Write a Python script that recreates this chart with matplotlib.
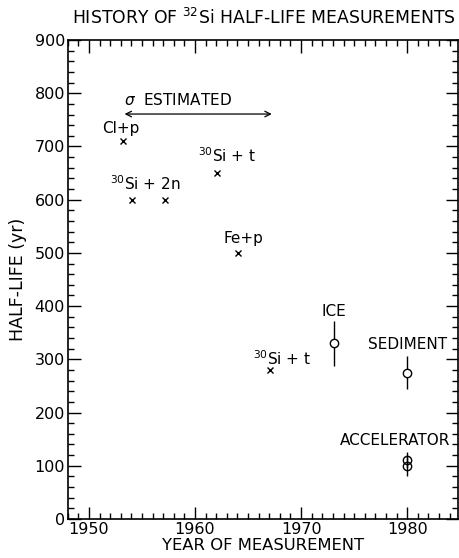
import matplotlib
matplotlib.use("Agg")
import matplotlib.pyplot as plt
from matplotlib.ticker import MultipleLocator

# reaction measurements (sigma estimated)
rx_years = [1953.2, 1954.1, 1957.2, 1962.1, 1964.1, 1967.1]
rx_life = [710, 600, 600, 650, 500, 280]

# measurements with error bars
ice_year, ice_life, ice_err = 1973.1, 330, 42
sed_year, sed_life, sed_err = 1980.0, 275, 31
acc_years = [1980.0, 1980.0]
acc_life = [110, 100]
acc_err = [15, 20]

plt.rcParams['font.family'] = ['DejaVu Sans']

fig = plt.figure(figsize=(4.59, 5.58), dpi=100)
ax = fig.add_axes([0.1475, 0.0699, 0.8505, 0.8583])

ax.plot(rx_years, rx_life, 'x', color='black', ms=4.5, mew=1.0)

ax.errorbar([ice_year], [ice_life], yerr=[ice_err], fmt='o', mfc='white', mec='black',
            ecolor='black', ms=6, mew=1.0, elinewidth=1.0, capsize=0)
ax.errorbar([sed_year], [sed_life], yerr=[sed_err], fmt='o', mfc='white', mec='black',
            ecolor='black', ms=6, mew=1.0, elinewidth=1.0, capsize=0)
ax.errorbar(acc_years, acc_life, yerr=acc_err, fmt='o', mfc='none', mec='black',
            ecolor='black', ms=6, mew=1.0, elinewidth=1.0, capsize=0)

fs = 11
ax.text(1953.0, 733, 'Cl+p', ha='center', va='center', fontsize=fs)
ax.text(1955.3, 630, '$^{30}$Si + 2n', ha='center', va='center', fontsize=fs)
ax.text(1963.0, 682, '$^{30}$Si + t', ha='center', va='center', fontsize=fs)
ax.text(1964.6, 527, 'Fe+p', ha='center', va='center', fontsize=fs)
ax.text(1968.2, 302, '$^{30}$Si + t', ha='center', va='center', fontsize=fs)
ax.text(1973.1, 390, 'ICE', ha='center', va='center', fontsize=fs)
ax.text(1980.0, 327, 'SEDIMENT', ha='center', va='center', fontsize=fs)
ax.text(1978.9, 148, 'ACCELERATOR', ha='center', va='center', fontsize=fs)
ax.text(1958.4, 788, r'$\sigma$  ESTIMATED', ha='center', va='center', fontsize=fs)
ax.annotate('', xy=(1953.1, 761), xytext=(1967.5, 761),
            arrowprops=dict(arrowstyle='<->', color='black', lw=0.9))

ax.set_xlim(1948, 1984.8)
ax.set_ylim(0, 900)
ax.xaxis.set_major_locator(MultipleLocator(10))
ax.xaxis.set_minor_locator(MultipleLocator(1))
ax.yaxis.set_major_locator(MultipleLocator(100))
ax.yaxis.set_minor_locator(MultipleLocator(20))
ax.tick_params(which='both', direction='in', top=True, right=True, width=1.0,
               labelsize=11.5, pad=2)
ax.tick_params(which='major', length=9)
ax.tick_params(which='minor', length=4)
for s in ax.spines.values():
    s.set_linewidth(1.2)

ax.set_xlabel('YEAR OF MEASUREMENT', fontsize=11.8)
ax.xaxis.set_label_coords(0.5, -0.039)
ax.set_ylabel('HALF-LIFE (yr)', fontsize=12.5)
ax.yaxis.set_label_coords(-0.105, 0.5)
fig.text(72 / 459, 1 - 18 / 558, 'HISTORY OF $^{32}$Si HALF-LIFE MEASUREMENTS',
         ha='left', va='center', fontsize=12.4)

fig.savefig('out.png', dpi=100)
